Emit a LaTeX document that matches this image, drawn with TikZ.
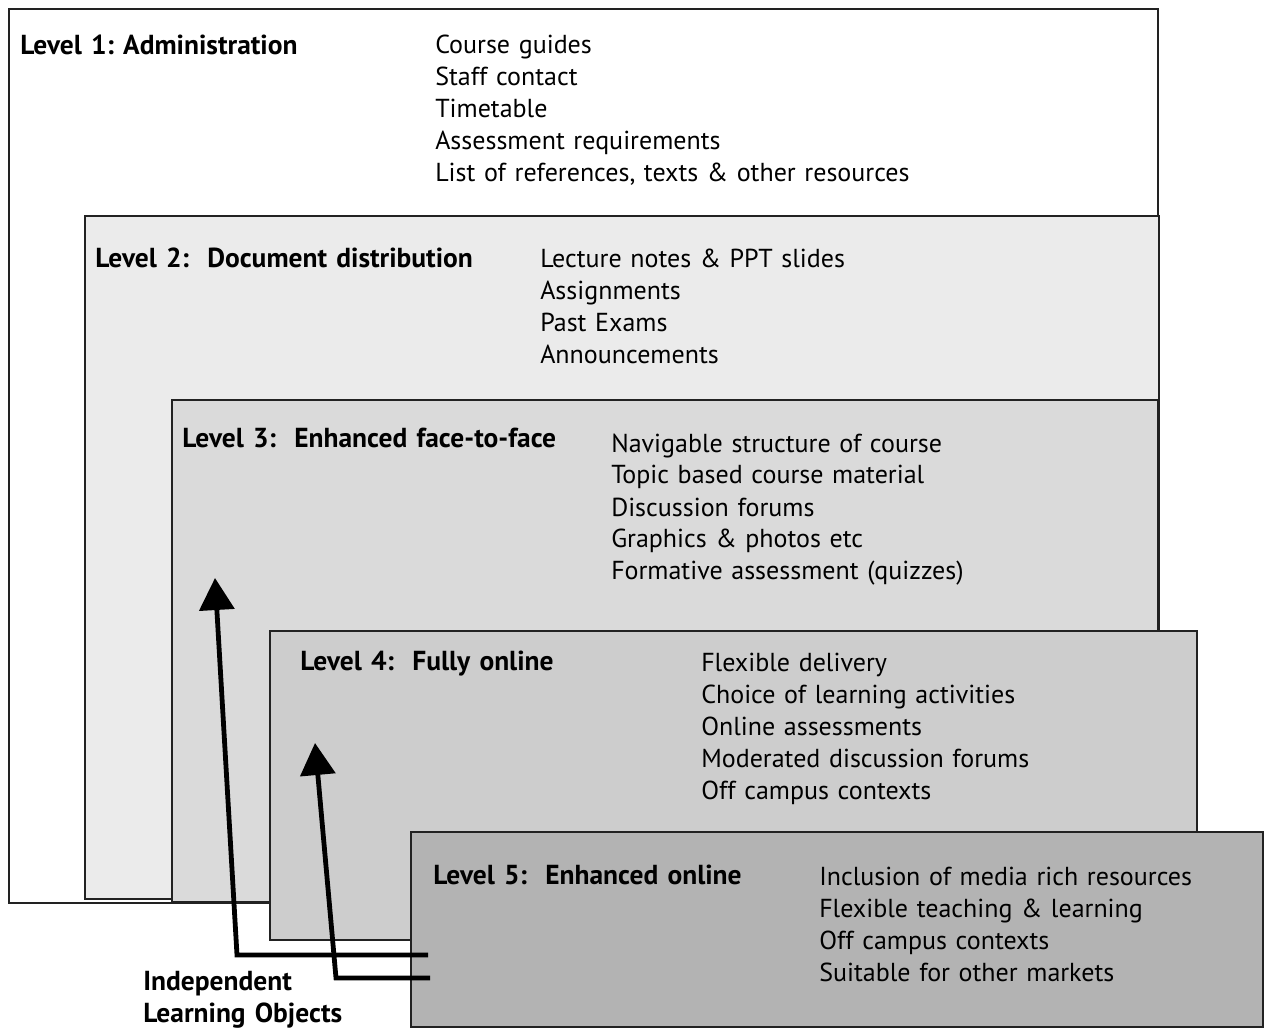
\documentclass[tikz,border=0pt]{standalone}
\usepackage{fontspec}
\setmainfont{PT Sans}
\usetikzlibrary{arrows.meta,fit}
\definecolor{lvtwo}{HTML}{EBEBEB}
\definecolor{lvthree}{HTML}{DADADA}
\definecolor{lvfour}{HTML}{CDCDCD}
\definecolor{lvfive}{HTML}{B3B3B3}
\definecolor{edge}{HTML}{222222}
\begin{document}
\begin{tikzpicture}[x=0.75pt,y=-0.75pt,
  box/.style={draw=edge, line width=1.7pt, rectangle, inner sep=0pt, outer sep=0pt},
  lvl/.style={anchor=base west, font=\bfseries\fontsize{20.6}{24}\selectfont, inner sep=0pt, text width=400pt, align=left},
  items/.style={anchor=base west, font=\fontsize{19.5}{24}\selectfont, inner sep=0pt, text width=420pt, align=left},
  ilo/.style={draw=black, line width=3.6pt, line join=miter, -{Triangle[width=26pt,length=24pt]}}]
\useasboundingbox (0,0) rectangle (1271,1030);
\fill[white] (0,0) rectangle (1271,1030);
% boxes
\node[box, fill=white, fit={(9,9) (1158,903)}] (L1) {};
\node[box, fill=lvtwo, fit={(85,216) (1159,899)}] (L2) {};
\node[box, fill=lvthree, fit={(172,400) (1158,902)}] (L3) {};
\node[box, fill=lvfour, fit={(270,631) (1197,940)}] (L4) {};
\node[box, fill=lvfive, fit={(411,832) (1263,1027)}] (L5) {};
% labels
\node[lvl] (t1) at (20,55) {Level 1:\ Administration};
\node[items] (i1) at (435,54) {Course guides\\Staff contact\\Timetable\\Assessment requirements\\List of references,\ texts \& other resources};
\node[lvl] (t2) at (95,268) {Level 2:\ \ Document distribution};
\node[items] (i2) at (540,268) {Lecture notes \& PPT slides\\Assignments\\Past Exams\\Announcements};
\node[lvl] (t3) at (182,447) {Level 3:\ \ Enhanced face-to-face};
\node[items] (i3) at (611,452) {Navigable structure of course\\Topic based course material\\Discussion forums\\Graphics \& photos etc\\Formative assessment (quizzes)};
\node[lvl] (t4) at (300,670) {Level 4:\ \ Fully online};
\node[items] (i4) at (701,671) {Flexible delivery\\Choice of learning activities\\Online assessments\\Moderated discussion forums\\Off campus contexts};
\node[lvl] (t5) at (433,884) {Level 5:\ \ Enhanced online};
\node[items] (i5) at (819,885) {Inclusion of media rich resources\\Flexible teaching \& learning\\Off campus contexts\\Suitable for other markets};
\node[lvl] (ilo) at (143,990) {Independent\\Learning Objects};
% arrows
\coordinate (a1s) at (428,955);
\coordinate (a1c) at (237,955);
\coordinate (a1t) at (215,578);
\coordinate (a2s) at (430,978);
\coordinate (a2c) at (336,978);
\coordinate (a2t) at (315,743);
\draw[ilo] (a1s) -- (a1c) -- (a1t);
\draw[ilo] (a2s) -- (a2c) -- (a2t);
\end{tikzpicture}
\end{document}
